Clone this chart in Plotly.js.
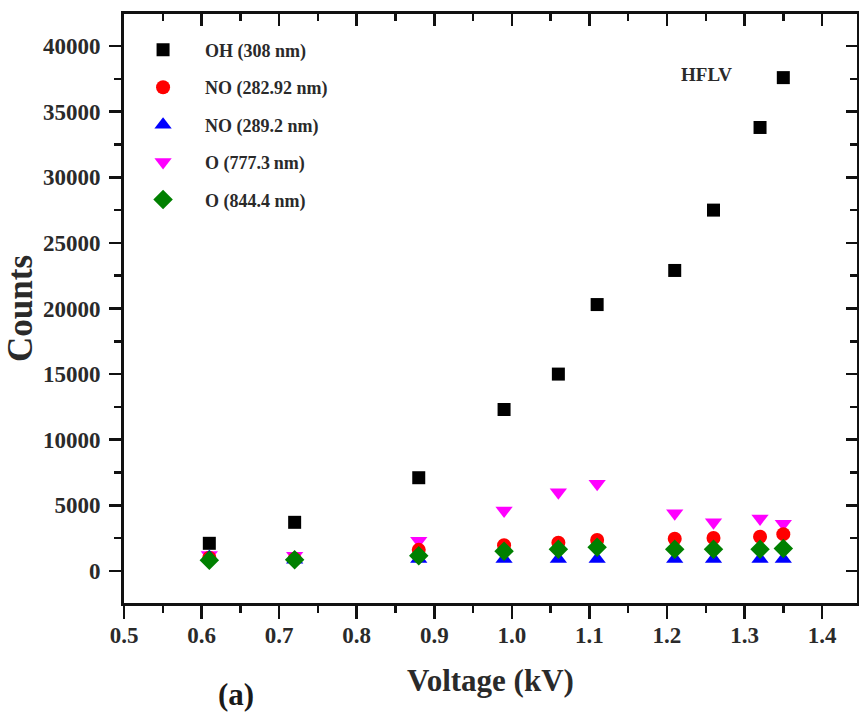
<!DOCTYPE html>
<html>
<head>
<meta charset="utf-8">
<script src="https://cdn.plot.ly/plotly-3.0.1.min.js"></script>
<style>html,body{margin:0;padding:0;background:#fff;}#chart{width:859px;height:713px;}</style>
</head>
<body>
<div id="chart"></div>
<script>
const voltage = [0.61, 0.72, 0.88, 0.99, 1.06, 1.11, 1.21, 1.26, 1.32, 1.35];
const ohCounts = [2100, 3700, 7100, 12300, 15000, 20300, 22900, 27500, 33800, 37600];
const no282Counts = [1000, 900, 1600, 1950, 2150, 2350, 2450, 2500, 2600, 2800];
const no289Counts = [1050, 850, 900, 900, 900, 900, 900, 900, 900, 900];
const o777Counts = [1200, 1150, 2300, 4600, 6000, 6650, 4400, 3700, 4000, 3600];
const o844Counts = [800, 850, 1150, 1500, 1650, 1800, 1650, 1650, 1650, 1700];
const seriesNames = ["OH (308 nm)", "NO (282.92 nm)", "NO (289.2 nm)", "O (777.3\u2009nm)", "O (844.4 nm)"];

const FONT = "Liberation Serif, Times New Roman, serif";
const seriesData = [ohCounts, no282Counts, no289Counts, o777Counts, o844Counts];
const styles = [
  {symbol: "square", color: "#000000", size: 13},
  {symbol: "circle", color: "#ff0000", size: 14},
  {symbol: "triangle-up", color: "#0000ff", size: 15},
  {symbol: "triangle-down", color: "#ff00ff", size: 15},
  {symbol: "diamond", color: "#008000", size: 15}
];
const order = [0, 3, 1, 2, 4];
const traces = order.map(i => ({
  type: "scatter", mode: "markers",
  x: voltage, y: seriesData[i], name: seriesNames[i],
  legendgroup: "g" + i, legendrank: i + 1,
  marker: {symbol: styles[i].symbol, color: styles[i].color, size: styles[i].size, line: {width: 0}}
}));
// invisible trace on the mirror axes so their inward ticks render
traces.push({type: "scatter", mode: "markers", x: voltage, y: ohCounts, xaxis: "x2", yaxis: "y2",
  marker: {opacity: 0}, showlegend: false, hoverinfo: "skip"});

const TXT = "#2a2a2a";
const tickFont = {family: FONT, size: 23, color: TXT, weight: 700};
const layout = {
  width: 859, height: 713,
  margin: {l: 124, r: 2, t: 14, b: 110},
  paper_bgcolor: "#fff", plot_bgcolor: "#fff",
  font: {family: FONT, color: TXT},
  showlegend: true,
  legend: {x: -0.004, y: 0.97, xanchor: "left", yanchor: "top", itemwidth: 74,
    font: {family: FONT, size: 18, color: TXT, weight: 700},
    traceorder: "grouped", tracegroupgap: 11, bgcolor: "rgba(0,0,0,0)"},
  xaxis: {range: [0.5, 1.445], dtick: 0.1, tick0: 0.5, tickformat: ".1f",
    ticks: "outside", ticklen: 13, tickwidth: 2.5, tickcolor: "#111",
    showline: true, linewidth: 2.8, linecolor: "#111", mirror: true,
    showgrid: false, zeroline: false, ticklabelstandoff: -3,
    tickfont: tickFont,
    minor: {dtick: 0.05, ticks: "outside", ticklen: 7, tickwidth: 2.5, tickcolor: "#111", showgrid: false},
    title: {text: "Voltage (kV)", font: {family: FONT, size: 31, color: TXT, weight: 700}, standoff: 22}},
  yaxis: {range: [-2450, 42450], dtick: 5000, tick0: 0, tickformat: "d",
    ticks: "outside", ticklen: 12, tickwidth: 2.5, tickcolor: "#111",
    showline: true, linewidth: 2.8, linecolor: "#111", mirror: true,
    showgrid: false, zeroline: false, ticklabelstandoff: 4,
    tickfont: tickFont,
    minor: {dtick: 2500, ticks: "outside", ticklen: 7, tickwidth: 2.5, tickcolor: "#111", showgrid: false},
    title: {text: "Counts", font: {family: FONT, size: 35, color: TXT, weight: 700}, standoff: 0}},
  xaxis2: {overlaying: "x", side: "top", range: [0.5, 1.445], dtick: 0.1, tick0: 0.5,
    ticks: "inside", ticklen: 12, tickwidth: 2.5, tickcolor: "#111", showticklabels: false,
    showline: false, showgrid: false, zeroline: false,
    minor: {dtick: 0.05, ticks: "inside", ticklen: 7, tickwidth: 2.5, tickcolor: "#111", showgrid: false}},
  yaxis2: {overlaying: "y", side: "right", range: [-2450, 42450], dtick: 5000, tick0: 0,
    ticks: "inside", ticklen: 11, tickwidth: 2.5, tickcolor: "#111", showticklabels: false,
    showline: false, showgrid: false, zeroline: false,
    minor: {dtick: 2500, ticks: "inside", ticklen: 7, tickwidth: 2.5, tickcolor: "#111", showgrid: false}},
  annotations: [
    {text: "HFLV", xref: "paper", yref: "paper", x: 0.795, y: 0.897, xanchor: "center", yanchor: "middle",
      showarrow: false, font: {family: FONT, size: 19, color: TXT, weight: 700}},
    {text: "(a)", xref: "paper", yref: "paper", x: 0.153, y: -0.155, xanchor: "center", yanchor: "middle",
      showarrow: false, font: {family: FONT, size: 31, color: "#1a1a1a", weight: 700}}
  ]
};
Plotly.newPlot("chart", traces, layout, {displayModeBar: false, staticPlot: true});
</script>
</body>
</html>
